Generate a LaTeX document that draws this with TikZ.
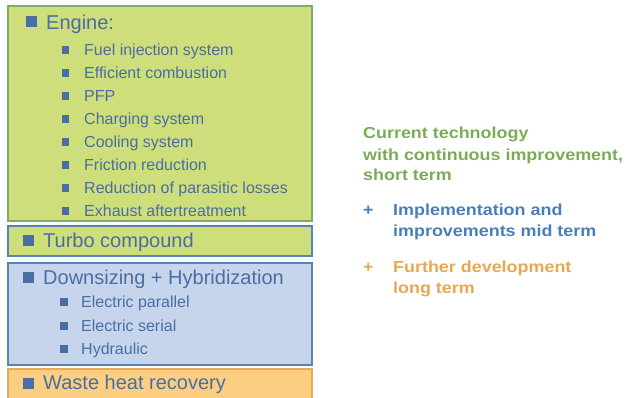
\documentclass[tikz,border=0pt]{standalone}
\usepackage{fontspec}
\setmainfont{Liberation Sans}
\newfontfamily\keyfont[FakeStretch=1.12]{Liberation Sans}
\definecolor{boxgreen}{RGB}{206,222,122}
\definecolor{linegreen}{RGB}{124,172,104}
\definecolor{boxblue}{RGB}{198,213,236}
\definecolor{lineblue}{RGB}{86,132,182}
\definecolor{boxorange}{RGB}{252,206,130}
\definecolor{lineorange}{RGB}{230,172,92}
\definecolor{itemblue}{RGB}{74,110,164}
\definecolor{keygreen}{RGB}{122,172,88}
\definecolor{keyblue}{RGB}{72,126,186}
\definecolor{keyorange}{RGB}{234,166,82}
\begin{document}
\begin{tikzpicture}[x=1pt,y=-1pt]
        \tikzset{
            groupbox/.style={draw,line width=1.6pt,anchor=north west,inner sep=0pt,minimum width=304pt},
            bigbullet/.style={fill=itemblue,inner sep=0pt,minimum size=11pt},
            smallbullet/.style={fill=itemblue,inner sep=0pt,minimum size=7.5pt},
            headtext/.style={anchor=base west,inner sep=0pt,text=itemblue,font=\fontsize{20}{22}\selectfont},
            itemtext/.style={anchor=base west,inner sep=0pt,text=itemblue,font=\fontsize{16}{18}\selectfont},
            keytext/.style={anchor=base west,inner sep=0pt,align=left,font=\keyfont\bfseries\fontsize{16}{21}\selectfont},
        }
        \useasboundingbox (0,0) rectangle (626,398);

        \node[groupbox,draw=linegreen,fill=boxgreen,minimum height=215pt] (engine) at(7,5) {};
        \node[groupbox,draw=lineblue,fill=boxgreen,minimum height=30pt] (turbo) at(7,225) {};
        \node[groupbox,draw=lineblue,fill=boxblue,minimum height=102pt] (hybrid) at(7,262) {};
        \node[groupbox,draw=lineorange,fill=boxorange,minimum height=32pt] (waste) at(7,368) {};

        \node[bigbullet] (b-engine) at(31,22) {};
        \node[headtext] (t-engine) at(46,29.5) {Engine:};
        \node[smallbullet] (b-fuel) at(65.5,50) {};
        \node[itemtext] (t-fuel) at(84,55.5) {Fuel injection system};
        \node[smallbullet] (b-comb) at(65.5,73) {};
        \node[itemtext] (t-comb) at(84,78.5) {Efficient combustion};
        \node[smallbullet] (b-pfp) at(65.5,96) {};
        \node[itemtext] (t-pfp) at(84,101.5) {PFP};
        \node[smallbullet] (b-charge) at(65.5,119) {};
        \node[itemtext] (t-charge) at(84,124.5) {Charging system};
        \node[smallbullet] (b-cool) at(65.5,142) {};
        \node[itemtext] (t-cool) at(84,147.5) {Cooling system};
        \node[smallbullet] (b-fric) at(65.5,165) {};
        \node[itemtext] (t-fric) at(84,170.5) {Friction reduction};
        \node[smallbullet] (b-para) at(65.5,188) {};
        \node[itemtext] (t-para) at(84,193.5) {Reduction of parasitic losses};
        \node[smallbullet] (b-exh) at(65.5,211) {};
        \node[itemtext] (t-exh) at(84,216.5) {Exhaust aftertreatment};

        \node[bigbullet] (b-turbo) at(28,240) {};
        \node[headtext] (t-turbo) at(43,247) {Turbo compound};

        \node[bigbullet] (b-hybrid) at(28,277) {};
        \node[headtext] (t-hybrid) at(43,284) {Downsizing + Hybridization};
        \node[smallbullet] (b-epar) at(64,302) {};
        \node[itemtext] (t-epar) at(81,307.5) {Electric parallel};
        \node[smallbullet] (b-eser) at(64,326) {};
        \node[itemtext] (t-eser) at(81,331.5) {Electric serial};
        \node[smallbullet] (b-hydr) at(64,349) {};
        \node[itemtext] (t-hydr) at(81,354.5) {Hydraulic};

        \node[bigbullet] (b-waste) at(28,383) {};
        \node[headtext] (t-waste) at(43,389.5) {Waste heat recovery};

        % legend (base anchor sits on the last line)
        \node[keytext,text=keygreen] (k-short) at(363,181) {Current technology\\with continuous improvement,\\short term};
        \node[keytext,text=keyblue] (p-mid) at(363,215.5) {+};
        \node[keytext,text=keyblue] (k-mid) at(393,236.5) {Implementation and\\improvements mid term};
        \node[keytext,text=keyorange] (p-long) at(363,272.5) {+};
        \node[keytext,text=keyorange] (k-long) at(393,293) {Further development\\long term};
    \end{tikzpicture}
\end{document}
